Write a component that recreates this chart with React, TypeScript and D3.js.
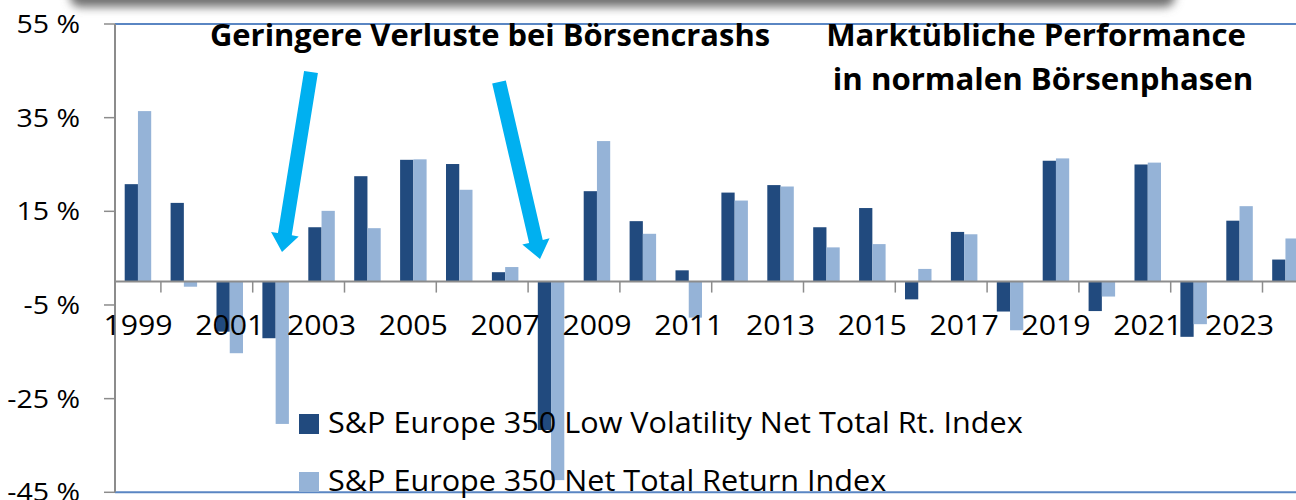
import React, { useEffect, useRef } from 'react';
import * as d3 from 'd3';

// jährliche Renditen in %
const years = ['1999', '2000', '2001', '2002', '2003', '2004', '2005', '2006', '2007', '2008', '2009', '2010', '2011',
  '2012', '2013', '2014', '2015', '2016', '2017', '2018', '2019', '2020', '2021', '2022', '2023', '2024'];
const lowVol = [20.8, 16.8, -10.7, -12.1, 11.6, 22.5, 26.0, 25.1, 2.0, -31.7, 19.3, 12.9, 2.4,
  19.0, 20.6, 11.6, 15.7, -3.8, 10.6, -6.4, 25.8, -6.3, 25.0, -11.8, 13.0, 4.7];
const market = [36.4, -1.1, -15.3, -30.4, 15.1, 11.4, 26.1, 19.6, 3.1, -42.4, 30.0, 10.2, -7.7,
  17.3, 20.3, 7.3, 8.0, 2.7, 10.1, -10.4, 26.3, -3.2, 25.4, -9.1, 16.1, 9.2];
const seriesNames = ['S&P Europe 350 Low Volatility Net Total Rt. Index', 'S&P Europe 350 Net Total Return Index'];
const seriesColors = ['#214A7E', '#95B3D7'];
const yTicks = [-45, -25, -5, 15, 35, 55];

const App = () => {
  const svgRef = useRef(null);

  useEffect(() => {
    const svg = d3.select(svgRef.current);
    svg.selectAll('*').remove();
    draw(svg);
  }, []);

  const draw = (svg) => {
    const left = 115, top = 24, bottom = 492.3;
    const band = 45.9;
    const font = 'Open Sans, sans-serif';

    const x0 = d3.scaleBand().domain(years).range([left, left + band * years.length]);
    const x1 = d3.scaleBand().domain(['0', '1']).range([9.7, 36.2]);
    const y = d3.scaleLinear().domain([-45, 55]).range([bottom, top]);

    // Text etwas breiter gezogen (Original wirkt horizontal gestreckt)
    const label = (g, txt, xx, yy, size, sx, anchor, weight = 'normal') =>
      g.append('text')
        .attr('transform', `translate(${xx},${yy}) scale(${sx},1)`)
        .attr('text-anchor', anchor)
        .attr('font-family', font).attr('font-size', size).attr('font-weight', weight)
        .attr('fill', '#000')
        .text(txt);

    // Schatten oben
    const defs = svg.append('defs');
    const f = defs.append('filter').attr('id', 'blur').attr('x', '-10%').attr('y', '-100%').attr('width', '120%').attr('height', '300%');
    f.append('feGaussianBlur').attr('stdDeviation', 5);
    svg.append('rect')
      .attr('x', 70).attr('y', -30).attr('width', 1105).attr('height', 37)
      .attr('rx', 10)
      .attr('fill', '#6f6f6f')
      .attr('filter', 'url(#blur)');

    // Rahmen oben/unten
    [top, bottom].forEach((yy) => {
      svg.append('line')
        .attr('x1', left).attr('x2', 1296).attr('y1', yy).attr('y2', yy)
        .attr('stroke', '#5A86C3').attr('stroke-width', 2);
    });

    // y-Achse
    svg.append('line')
      .attr('x1', left).attr('x2', left).attr('y1', top).attr('y2', bottom)
      .attr('stroke', '#8C8C8C').attr('stroke-width', 2);
    const yg = svg.append('g');
    yTicks.forEach((t) => {
      yg.append('line')
        .attr('x1', left - 11).attr('x2', left).attr('y1', y(t)).attr('y2', y(t))
        .attr('stroke', '#8C8C8C').attr('stroke-width', 1.5);
      label(yg, t + ' %', 80, y(t) + 9, 25, 1.14, 'end');
    });

    // Balken
    const bars = svg.append('g');
    [lowVol, market].forEach((vals, s) => {
      bars.selectAll('.b' + s)
        .data(years)
        .enter()
        .append('rect')
        .attr('x', (d) => x0(d) + x1(String(s)))
        .attr('width', x1.bandwidth())
        .attr('y', (d, i) => y(Math.max(0, vals[i])))
        .attr('height', (d, i) => Math.abs(y(vals[i]) - y(0)))
        .attr('fill', seriesColors[s]);
    });

    // Nulllinie + Ticks
    svg.append('line')
      .attr('x1', left).attr('x2', 1296).attr('y1', y(0)).attr('y2', y(0))
      .attr('stroke', '#8C8C8C').attr('stroke-width', 2);
    const xg = svg.append('g');
    years.forEach((yr, i) => {
      if (i % 2 === 0) {
        label(xg, yr, x0(yr) + band / 2, 335, 28, 1.08, 'middle');
      } else {
        xg.append('line')
          .attr('x1', x0(yr)).attr('x2', x0(yr)).attr('y1', y(0)).attr('y2', y(0) + 11)
          .attr('stroke', '#8C8C8C').attr('stroke-width', 1.5);
      }
    });

    // Legende
    const leg = svg.append('g');
    seriesNames.forEach((n, i) => {
      const by = i === 0 ? 414 : 472;
      leg.append('rect')
        .attr('x', 299).attr('y', by).attr('width', 20).attr('height', 20)
        .attr('fill', seriesColors[i]);
      label(leg, n, 328, by + 18.5, 29, 1.055, 'start');
    });

    // Pfeile
    const arrow = (xa, ya, xb, yb) => {
      const ang = Math.atan2(yb - ya, xb - xa);
      const len = Math.hypot(xb - xa, yb - ya);
      const sw = 7, hw = 14, hl = 18;
      const pts = [
        [0, -sw], [len - hl, -sw], [len - hl, -hw], [len, 0], [len - hl, hw], [len - hl, sw], [0, sw],
      ];
      svg.append('polygon')
        .attr('points', pts.map((p) => p.join(',')).join(' '))
        .attr('transform', `translate(${xa},${ya}) rotate(${(ang * 180) / Math.PI})`)
        .attr('fill', '#00B0F0');
    };
    arrow(311, 72, 282, 252);
    arrow(499, 82, 540, 259);

    // Beschriftungen
    const ann = svg.append('g');
    label(ann, 'Geringere Verluste bei Börsencrashs', 210, 46, 30, 1.03, 'start', 'bold');
    label(ann, 'Marktübliche Performance', 1036, 46, 30, 1.04, 'middle', 'bold');
    label(ann, 'in normalen Börsenphasen', 1043, 90, 30, 1.04, 'middle', 'bold');
  };

  return (
    <div>
      <svg ref={svgRef} width={1296} height={500} style={{ display: 'block', position: 'absolute', left: 0, top: 0 }}></svg>
    </div>
  );
};

export default App;
